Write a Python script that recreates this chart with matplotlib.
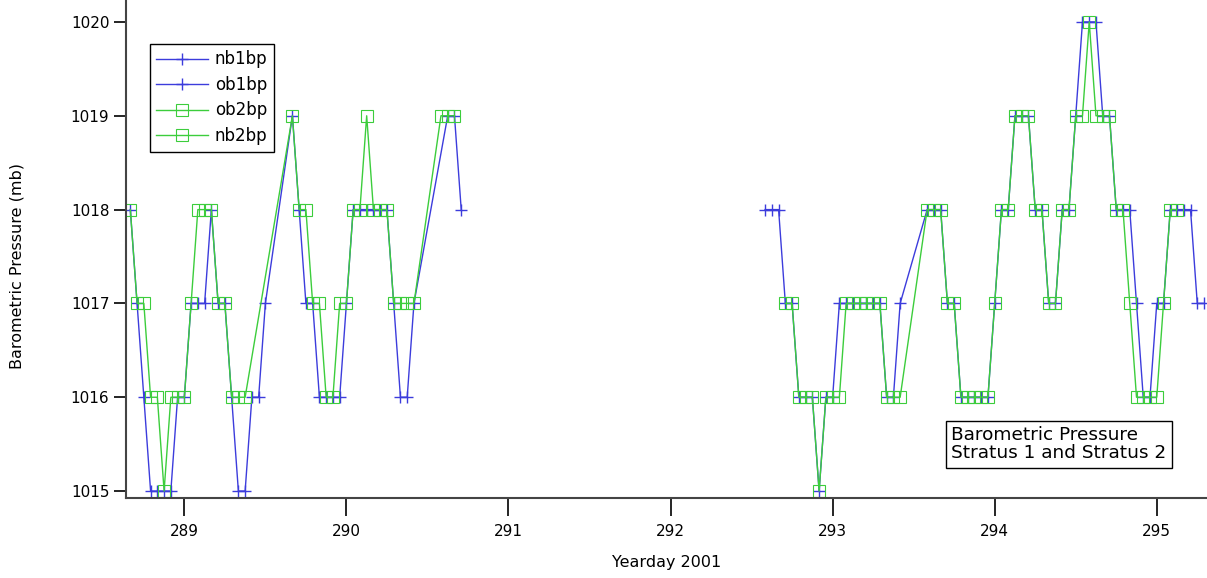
import matplotlib
matplotlib.use('Agg')
import matplotlib.pyplot as plt

# hour counts from the start of yearday 288, barometric pressure in mb
ob1bp_hours = [16, 17, 18, 19, 20, 21, 22, 23, 24, 25, 26, 27, 28, 29, 30, 31, 32, 33, 34, 35, 36,
               40, 41, 42, 43, 44, 45, 46, 47, 48, 49, 50, 51, 52, 53, 54, 55, 56, 57, 58,
               63, 64, 65]
ob1bp = [1018, 1017, 1016, 1015, 1015, 1015, 1015, 1016, 1016, 1017, 1017, 1017, 1018, 1017, 1017,
         1016, 1015, 1015, 1016, 1016, 1017,
         1019, 1018, 1017, 1017, 1016, 1016, 1016, 1016, 1017, 1018, 1018, 1018, 1018, 1018, 1018,
         1017, 1016, 1016, 1017,
         1019, 1019, 1018]

ob2bp_hours = [16, 17, 18, 19, 20, 21, 22, 23, 24, 25, 26, 27, 28, 29, 30, 31, 32, 33,
               40, 41, 42, 43, 44, 45, 46, 47, 48, 49, 50, 51, 52, 53, 54, 55, 56, 57, 58,
               62, 63, 64]
ob2bp = [1018, 1017, 1017, 1016, 1016, 1015, 1016, 1016, 1016, 1017, 1018, 1018, 1018, 1017, 1017,
         1016, 1016, 1016,
         1019, 1018, 1018, 1017, 1017, 1016, 1016, 1017, 1017, 1018, 1018, 1019, 1018, 1018, 1018,
         1017, 1017, 1017, 1017,
         1019, 1019, 1019]

nb1bp_hours = [110, 111, 112, 113, 114, 115, 116, 117, 118, 119, 120, 121, 122, 123, 124, 125, 126,
               127, 128, 129, 130,
               134, 135, 136, 137, 138, 139, 140, 141, 142, 143, 144, 145, 146, 147, 148, 149, 150,
               151, 152, 153, 154, 155, 156, 157, 158, 159, 160, 161, 162, 163, 164, 165, 166, 167,
               168, 169, 170, 171, 172, 173, 174, 175]
nb1bp = [1018, 1018, 1018, 1017, 1017, 1016, 1016, 1016, 1015, 1016, 1016, 1017, 1017, 1017, 1017,
         1017, 1017, 1017, 1016, 1016, 1017,
         1018, 1018, 1018, 1017, 1017, 1016, 1016, 1016, 1016, 1016, 1017, 1018, 1018, 1019, 1019,
         1019, 1018, 1018, 1017, 1017, 1018, 1018, 1019, 1020, 1020, 1020, 1019, 1019, 1018, 1018,
         1018, 1017, 1016, 1016, 1017, 1017, 1018, 1018, 1018, 1018, 1017, 1017]

nb2bp_hours = [113, 114, 115, 116, 117, 118, 119, 120, 121, 122, 123, 124, 125, 126, 127, 128, 129, 130,
               134, 135, 136, 137, 138, 139, 140, 141, 142, 143, 144, 145, 146, 147, 148, 149, 150,
               151, 152, 153, 154, 155, 156, 157, 158, 159, 160, 161, 162, 163, 164, 165, 166, 167,
               168, 169, 170, 171]
nb2bp = [1017, 1017, 1016, 1016, 1016, 1015, 1016, 1016, 1016, 1017, 1017, 1017, 1017, 1017, 1017,
         1016, 1016, 1016,
         1018, 1018, 1018, 1017, 1017, 1016, 1016, 1016, 1016, 1016, 1017, 1018, 1018, 1019, 1019,
         1019, 1018, 1018, 1017, 1017, 1018, 1018, 1019, 1019, 1020, 1019, 1019, 1019, 1018, 1018,
         1017, 1016, 1016, 1016, 1016, 1017, 1018, 1018]

xticks = [289, 290, 291, 292, 293, 294, 295]
yticks = [1015, 1016, 1017, 1018, 1019, 1020]

BLUE = '#3c3cdc'
GREEN = '#3ccd3c'


def to_yearday(hours):
    return [288 + h / 24 for h in hours]


fig = plt.figure(figsize=(12.07, 5.78), dpi=100)
ax = fig.add_axes([0.1044, 0.1384, 0.8956, 0.8616])

ax.plot(to_yearday(nb1bp_hours), nb1bp, color=BLUE, lw=1, marker='+', ms=9, mew=1, label='nb1bp')
ax.plot(to_yearday(ob1bp_hours), ob1bp, color=BLUE, lw=1, marker='+', ms=9, mew=1, label='ob1bp')
ax.plot(to_yearday(ob2bp_hours), ob2bp, color=GREEN, lw=1, marker='s', ms=8, mew=0.8,
        mfc='none', label='ob2bp')
ax.plot(to_yearday(nb2bp_hours), nb2bp, color=GREEN, lw=1, marker='s', ms=8, mew=0.8,
        mfc='none', label='nb2bp')

ax.set_xlim(288.64, 295.31)
ax.set_ylim(1014.926, 1020.234)
ax.set_xticks(xticks)
ax.set_yticks(yticks)

for side in ['top', 'right']:
    ax.spines[side].set_visible(False)
for side in ['left', 'bottom']:
    ax.spines[side].set_linewidth(1.5)
    ax.spines[side].set_color('#444444')
ax.tick_params(axis='y', direction='out', length=9, width=1.2, labelsize=11, pad=3)
ax.tick_params(axis='x', direction='out', length=13, width=1.2, labelsize=11, pad=6)

ax.set_xlabel('Yearday 2001', fontsize=11.5, labelpad=11)
ax.set_ylabel('Barometric Pressure (mb)', fontsize=11.5)
ax.yaxis.set_label_coords(-0.094, 0.465)

leg = ax.legend(loc='upper left', bbox_to_anchor=(0.022, 0.912), borderaxespad=0,
                fontsize=12, handlelength=3.1, handletextpad=0.4, labelspacing=0.45,
                borderpad=0.4, fancybox=False, framealpha=1)
leg.get_frame().set_edgecolor('black')
leg.get_frame().set_linewidth(1)

ax.text(0.7635, 0.144, 'Barometric Pressure\nStratus 1 and Stratus 2', transform=ax.transAxes,
        fontsize=13.3, ha='left', va='top', linespacing=1.0,
        bbox=dict(boxstyle='square,pad=0.3', fc='white', ec='black', lw=1))

fig.savefig('out.png', dpi=100)
